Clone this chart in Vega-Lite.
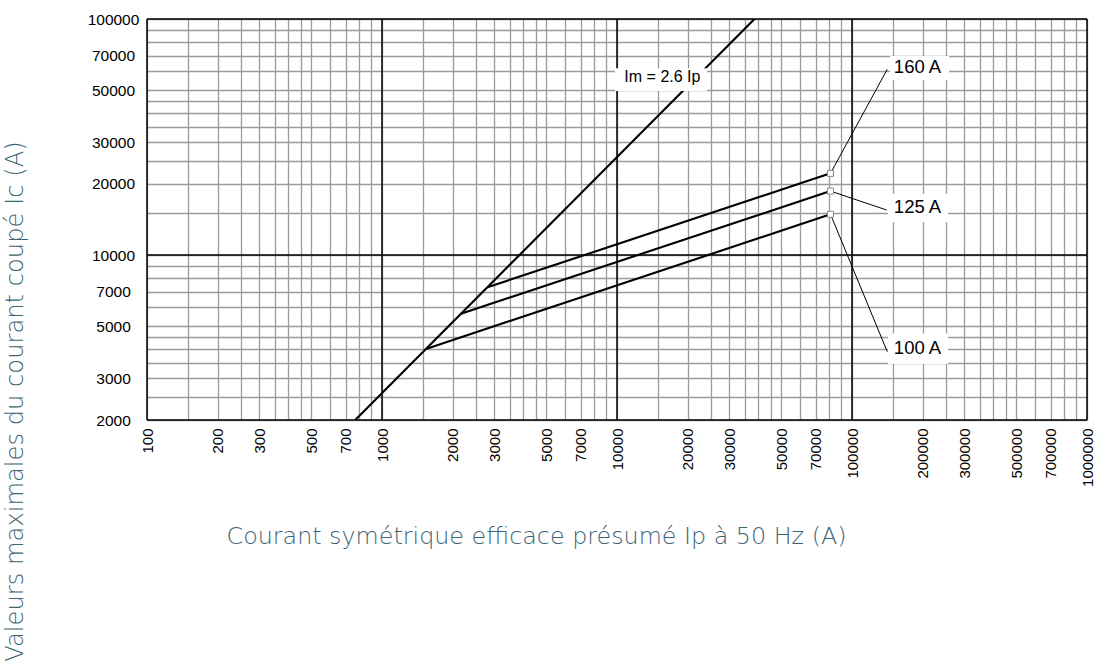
{
  "$schema": "https://vega.github.io/schema/vega-lite/v6.json",
  "width": 940,
  "height": 401,
  "autosize": {"type": "none"},
  "padding": {"left": 147, "top": 19, "right": 13, "bottom": 245},
  "background": "white",
  "config": {"view": {"stroke": null}},
  "datasets": {
    "curves": [
      {"series": "Im", "ip": 769.23, "ic": 2000},
      {"series": "Im", "ip": 38461.5, "ic": 100000},
      {"series": "100 A", "ip": 1538, "ic": 4000},
      {"series": "100 A", "ip": 81000, "ic": 14880},
      {"series": "125 A", "ip": 2168, "ic": 5640},
      {"series": "125 A", "ip": 81000, "ic": 18660},
      {"series": "160 A", "ip": 2810, "ic": 7300},
      {"series": "160 A", "ip": 81000, "ic": 22180}
    ],
    "vlines": [{"ip": 100}, {"ip": 1000}, {"ip": 10000}, {"ip": 100000}, {"ip": 1000000}],
    "hlines": [{"ic": 2000}, {"ic": 10000}, {"ic": 100000}],
    "leaders": [
      {"label": "160 A", "ip": 81000, "ic": 22180},
      {"label": "160 A", "ip": 141300, "ic": 61240},
      {"label": "125 A", "ip": 81000, "ic": 18660},
      {"label": "125 A", "ip": 140500, "ic": 15510},
      {"label": "100 A", "ip": 81000, "ic": 14880},
      {"label": "100 A", "ip": 141300, "ic": 3893}
    ],
    "markers": [
      {"label": "160 A", "ip": 81000, "ic": 22180},
      {"label": "125 A", "ip": 81000, "ic": 18660},
      {"label": "100 A", "ip": 81000, "ic": 14880}
    ],
    "labels": [
      {"text": "Im = 2.6 Ip", "ip": 15600, "ic": 56950, "x1": 9800, "x2": 24200, "y1": 49500, "y2": 61900, "kind": "im"},
      {"text": "160 A", "ip": 190000, "ic": 62800, "x1": 145100, "x2": 258700, "y1": 55150, "y2": 69700, "kind": "amp"},
      {"text": "125 A", "ip": 190000, "ic": 15970, "x1": 142300, "x2": 256200, "y1": 13800, "y2": 18140, "kind": "amp"},
      {"text": "100 A", "ip": 190000, "ic": 4025, "x1": 142300, "x2": 256200, "y1": 3450, "y2": 4650, "kind": "amp"}
    ]
  },
  "layer": [
    {
      "data": {"name": "curves"},
      "mark": {"type": "line", "color": "black", "strokeWidth": 2.1, "clip": true},
      "encoding": {
        "x": {
          "field": "ip", "type": "quantitative",
          "scale": {"type": "log", "domain": [100, 1000000], "nice": false, "zero": false},
          "axis": {
            "title": "Courant symétrique efficace présumé Ip à 50 Hz (A)",
            "values": [100,150,200,250,300,350,400,450,500,600,700,800,900,1000,1500,2000,2500,3000,3500,4000,4500,5000,6000,7000,8000,9000,10000,15000,20000,25000,30000,35000,40000,45000,50000,60000,70000,80000,90000,100000,150000,200000,250000,300000,350000,400000,450000,500000,600000,700000,800000,900000,1000000],
            "format": "d",
            "labelExpr": "indexof([100,200,300,500,700,1000,2000,3000,5000,7000,10000,20000,30000,50000,70000,100000,200000,300000,500000,700000,1000000], datum.value) >= 0 ? datum.label : ''",
            "labelAngle": -90, "labelAlign": "right", "labelBaseline": "middle", "labelPadding": 8,
            "labelFontSize": 15, "labelFont": "Liberation Sans", "labelColor": "black",
            "labelOverlap": false, "labelFlush": false, "labelBound": false,
            "ticks": false, "tickSize": 0, "domain": false,
            "grid": true, "gridColor": "#9a9a9a", "gridWidth": 1.3,
            "titleX": 389, "titleY": 116, "titleAlign": "center", "titleBaseline": "middle", "titleAnchor": null,
            "titleFontSize": 23.8, "titleFont": "DejaVu Sans", "titleFontWeight": 200, "titleColor": "#3d6474"
          }
        },
        "y": {
          "field": "ic", "type": "quantitative",
          "scale": {"type": "log", "domain": [2000, 100000], "nice": false, "zero": false},
          "axis": {
            "title": "Valeurs maximales du courant coupé Ic (A)",
            "values": [2000,2500,3000,3500,4000,4500,5000,6000,7000,8000,9000,10000,15000,20000,25000,30000,35000,40000,45000,50000,60000,70000,80000,90000,100000],
            "format": "d",
            "labelExpr": "indexof([2000,3000,5000,7000,10000,20000,30000,50000,70000,100000], datum.value) >= 0 ? datum.label : ''",
            "labelAngle": 0, "labelAlign": "center", "labelBaseline": "middle", "labelPadding": 34,
            "labelFontSize": 15.5, "labelFont": "Liberation Sans", "labelColor": "black",
            "labelOverlap": false, "labelFlush": false, "labelBound": false,
            "ticks": false, "tickSize": 0, "domain": false,
            "grid": true, "gridColor": "#9a9a9a", "gridWidth": 1.3,
            "titleX": -132, "titleY": 382, "titleAngle": -90, "titleAlign": "center", "titleBaseline": "middle", "titleAnchor": null,
            "titleFontSize": 24.2, "titleFont": "DejaVu Sans", "titleFontWeight": 200, "titleColor": "#3d6474"
          }
        },
        "detail": {"field": "series"}
      }
    },
    {
      "data": {"name": "vlines"},
      "mark": {"type": "rule", "color": "black", "strokeWidth": 1.5},
      "encoding": {"x": {"field": "ip", "type": "quantitative"}}
    },
    {
      "data": {"name": "hlines"},
      "mark": {"type": "rule", "color": "black", "strokeWidth": 1.5},
      "encoding": {"y": {"field": "ic", "type": "quantitative"}}
    },
    {
      "data": {"name": "leaders"},
      "mark": {"type": "line", "color": "black", "strokeWidth": 1},
      "encoding": {
        "x": {"field": "ip", "type": "quantitative"},
        "y": {"field": "ic", "type": "quantitative"},
        "detail": {"field": "label"}
      }
    },
    {
      "data": {"name": "markers"},
      "mark": {"type": "square", "size": 36, "filled": true, "fill": "white", "stroke": "#8a8a8a", "strokeWidth": 1, "opacity": 1},
      "encoding": {
        "x": {"field": "ip", "type": "quantitative"},
        "y": {"field": "ic", "type": "quantitative"}
      }
    },
    {
      "data": {"name": "labels"},
      "mark": {"type": "rect", "color": "white"},
      "encoding": {
        "x": {"field": "x1", "type": "quantitative"},
        "x2": {"field": "x2"},
        "y": {"field": "y1", "type": "quantitative"},
        "y2": {"field": "y2"}
      }
    },
    {
      "data": {"name": "labels"},
      "mark": {"type": "text", "font": "Liberation Sans", "color": "black", "align": "center", "baseline": "middle"},
      "encoding": {
        "x": {"field": "ip", "type": "quantitative"},
        "y": {"field": "ic", "type": "quantitative"},
        "text": {"field": "text"},
        "size": {"field": "kind", "type": "nominal", "scale": {"domain": ["im", "amp"], "range": [16, 18.5]}, "legend": null}
      }
    }
  ]
}
